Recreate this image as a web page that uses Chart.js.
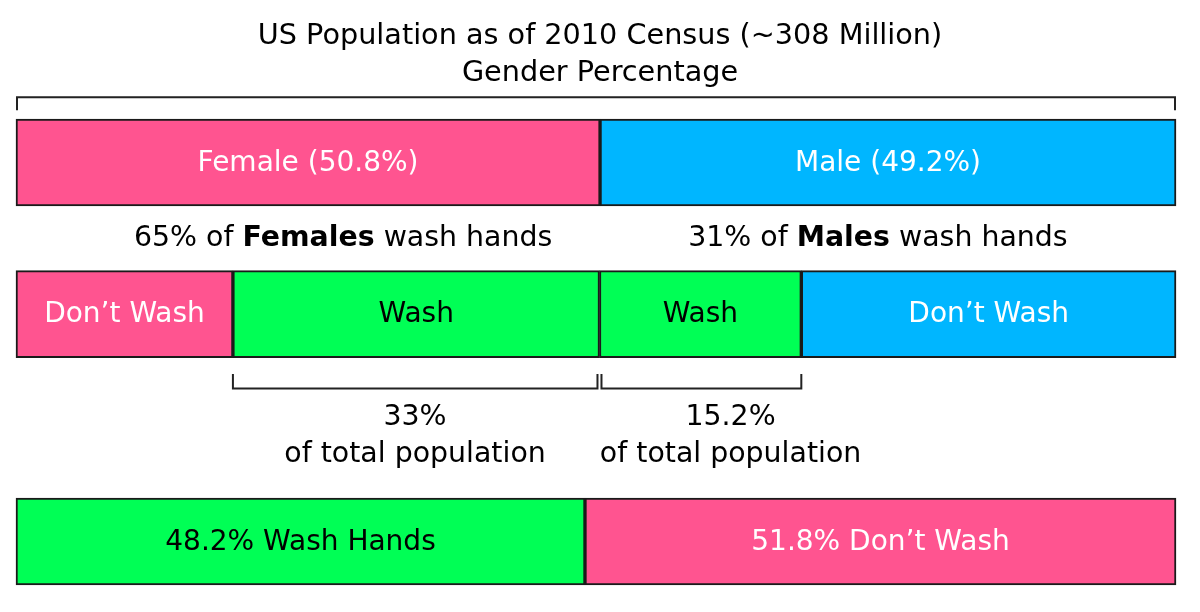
<!DOCTYPE html>
<html>
<head>
<meta charset="utf-8">
<script src="https://cdn.jsdelivr.net/npm/chart.js@4"></script>
<style>
    html, body { margin: 0; padding: 0; background: #fff; }
    #wrap { width: 1200px; height: 612px; position: relative; }
</style>
</head>
<body>
<div id="wrap"><canvas id="chart"></canvas></div>
<script>
// rows of the stacked bar chart (empty rows only make room for the notes)
const categories = ['Gender', '', 'Hand washing by gender', '', '', 'Whole population'];

// one entry per bar segment
const segmentLabels = ['Female (50.8%)', 'Male (49.2%)', 'Don’t Wash', 'Wash', 'Wash', 'Don’t Wash', '48.2% Wash Hands', '51.8% Don’t Wash'];
const segmentRows = [0, 0, 2, 2, 2, 2, 5, 5];
const segmentValues = [50.35, 49.65, 18.7, 31.6, 17.4, 32.3, 49.05, 50.95];
const segmentKinds = ['female', 'male', 'female', 'wash', 'wash', 'male', 'wash', 'female'];

const titleLines = ['US Population as of 2010 Census (~308 Million)', 'Gender Percentage'];

const notes = [
    {parts: [['65% of ', false], ['Females', true], [' wash hands', false]], x: 28.2, row: 1.0},
    {parts: [['31% of ', false], ['Males', true], [' wash hands', false]], x: 74.3, row: 1.0},
    {parts: [['33%', false]], x: 34.4, row: 3.36},
    {parts: [['of total population', false]], x: 34.4, row: 3.86},
    {parts: [['15.2%', false]], x: 61.6, row: 3.36},
    {parts: [['of total population', false]], x: 61.6, row: 3.86},
];

const palette = {
    female: '#ff5490',
    male: '#00b6ff',
    wash: '#00ff55',
};
const inkOn = {
    female: '#ffffff',
    male: '#ffffff',
    wash: '#000000',
};
const FONT = '"DejaVu Sans", sans-serif';

function drawRich(ctx, parts, cx, cy, size) {
    const widths = parts.map(([text, bold]) => {
        ctx.font = `${bold ? 'bold ' : ''}${size}px ${FONT}`;
        return ctx.measureText(text).width;
    });
    let x = cx - widths.reduce((a, b) => a + b, 0) / 2;

    ctx.textAlign = 'left';
    ctx.textBaseline = 'middle';
    parts.forEach(([text, bold], i) => {
        ctx.font = `${bold ? 'bold ' : ''}${size}px ${FONT}`;
        ctx.fillText(text, x, cy);
        x += widths[i];
    });
}

function bracket(ctx, x1, x2, yTop, yBottom, opening) {
    // opening 'down': line on top, ticks hanging down; 'up': ticks rising to a base line
    ctx.beginPath();
    if (opening === 'down') {
        ctx.moveTo(x1, yBottom);
        ctx.lineTo(x1, yTop);
        ctx.lineTo(x2, yTop);
        ctx.lineTo(x2, yBottom);
    } else {
        ctx.moveTo(x1, yTop);
        ctx.lineTo(x1, yBottom);
        ctx.lineTo(x2, yBottom);
        ctx.lineTo(x2, yTop);
    }
    ctx.stroke();
}

const decorations = {
    id: 'decorations',
    afterDatasetsDraw(chart) {
        const {ctx, scales: {x, y}} = chart;

        ctx.save();
        ctx.fillStyle = '#000';

        // title
        titleLines.forEach((line, i) => {
            drawRich(ctx, [[line, false]], chart.width / 2, 37 + i * 37, 28.7);
        });

        // labels inside the bars
        chart.data.datasets.forEach((ds, i) => {
            const el = chart.getDatasetMeta(i).data[segmentRows[i]];
            ctx.fillStyle = inkOn[segmentKinds[i]];
            drawRich(ctx, [[segmentLabels[i], false]], (el.x + el.base) / 2, el.y + 1, 28);
        });

        // brackets
        ctx.strokeStyle = '#222';
        ctx.lineWidth = 2;
        bracket(ctx, x.getPixelForValue(0) + 1, x.getPixelForValue(100) - 1,
            y.getPixelForValue(-0.86), y.getPixelForValue(-0.69), 'down');

        const femaleWash = chart.getDatasetMeta(3).data[2];
        const maleWash = chart.getDatasetMeta(4).data[2];
        bracket(ctx, femaleWash.base, femaleWash.x - 2,
            y.getPixelForValue(2.79), y.getPixelForValue(2.98), 'up');
        bracket(ctx, maleWash.base + 2, maleWash.x,
            y.getPixelForValue(2.79), y.getPixelForValue(2.98), 'up');

        // notes between the bars
        ctx.fillStyle = '#000';
        notes.forEach((note) => {
            drawRich(ctx, note.parts, x.getPixelForValue(note.x), y.getPixelForValue(note.row), 28.4);
        });

        ctx.restore();
    },
};

const datasets = segmentValues.map((value, i) => ({
    label: segmentLabels[i],
    data: categories.map((_, row) => (row === segmentRows[i] ? value : null)),
    backgroundColor: palette[segmentKinds[i]],
    borderColor: '#1a1a1a',
    borderWidth: 2,
    borderSkipped: false,
    barThickness: 87,
    clip: false,
}));

new Chart(document.getElementById('chart'), {
    type: 'bar',
    data: {
        labels: categories,
        datasets,
    },
    options: {
        indexAxis: 'y',
        responsive: true,
        maintainAspectRatio: false,
        animation: false,
        layout: {
            padding: {left: 16, right: 24, top: 124.6, bottom: 32.6},
        },
        scales: {
            x: {
                stacked: true,
                min: 0,
                max: 100,
                display: false,
            },
            y: {
                stacked: true,
                display: false,
            },
        },
        plugins: {
            legend: {display: false},
            tooltip: {enabled: false},
        },
    },
    plugins: [decorations],
});
</script>
</body>
</html>
